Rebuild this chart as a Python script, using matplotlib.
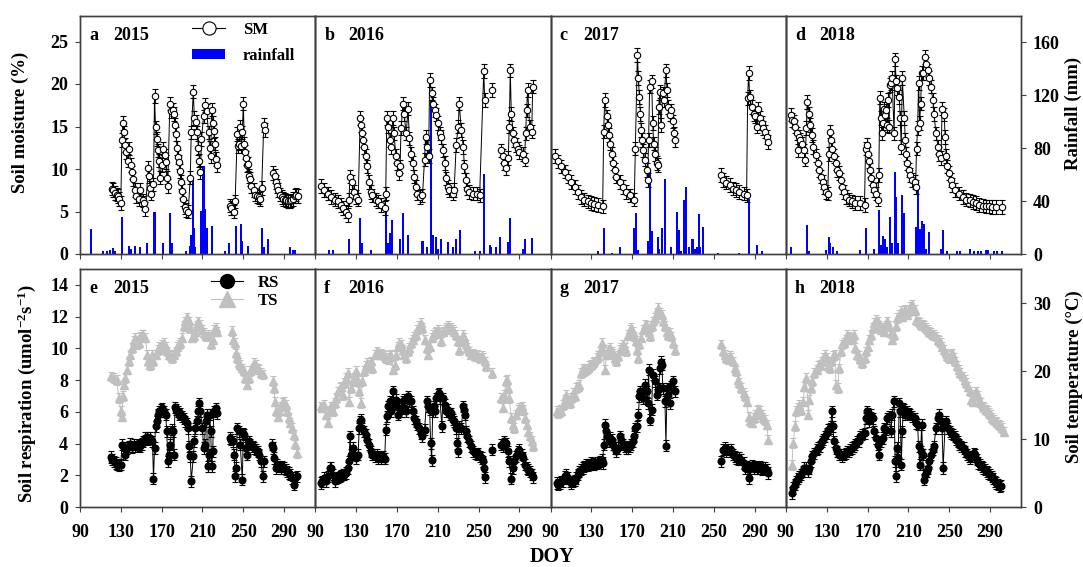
import numpy as np
import matplotlib
matplotlib.use('Agg')
import matplotlib.pyplot as plt
from matplotlib.lines import Line2D
from matplotlib.patches import Patch

plt.rcParams['font.family'] = 'Liberation Serif'
plt.rcParams['font.weight'] = 'bold'
plt.rcParams['mathtext.fontset'] = 'custom'
plt.rcParams['mathtext.rm'] = 'Liberation Serif:bold'
plt.rcParams['mathtext.default'] = 'rm'

years = [2015, 2016, 2017, 2018]
top_tags = ['a', 'b', 'c', 'd']
bottom_tags = ['e', 'f', 'g', 'h']
doy_ticks = [90, 130, 170, 210, 250, 290]

# ---- soil moisture (%) ----
doy_sm_2015 = [121,122,124,126,127,128,130,131,132,133,134,135,137,138,140,141,142,144,145,148,149,152,153,154,
               157,158,159,160,162,163,164,165,166,167,168,170,171,173,174,175,176,178,179,181,182,183,184,185,186,
               187,188,189,190,191,193,194,196,198,199,201,202,204,205,206,207,208,209,211,212,214,216,217,218,219,
               220,221,222,223,224,237,238,241,242,244,245,246,247,248,249,250,251,252,253,254,255,256,257,258,260,
               261,263,265,266,268,270,271,279,281,282,283,284,286,288,289,291,292,294,296,297,299,301,302,304]
sm_2015 = [7.7,7.5,7.2,7.0,6.8,6.5,6.0,13.4,15.4,14.3,12.8,12.0,11.0,12.4,10.5,9.6,8.8,7.5,6.8,6.5,7.5,6.3,6.0,5.3,
           10.1,9.2,7.8,7.1,8.2,18.6,14.9,13.5,12.2,11.0,9.0,10.5,12.4,11.6,10.8,9.0,8.0,17.7,16.8,17.0,16.5,15.2,
           14.1,12.5,11.4,10.8,9.8,8.5,7.4,6.5,5.5,5.2,5.0,9.0,14.3,19.1,16.0,15.5,14.3,12.5,11.0,9.6,13.5,16.2,
           17.5,16.8,14.3,12.5,11.5,17.0,15.4,14.5,13.0,11.2,10.5,5.7,5.4,5.0,6.2,14.1,12.7,13.0,15.0,12.7,14.3,
           17.7,13.0,12.0,11.3,10.5,10.6,9.2,8.8,8.0,7.5,7.0,6.8,6.7,6.5,7.8,15.2,14.6,9.5,9.2,8.5,8.0,7.5,7.0,
           6.7,6.5,6.4,6.3,6.2,6.2,6.3,6.5,6.8,7.0,6.8]

doy_sm_2016 = [96,99,102,105,109,112,115,117,120,122,123,124,126,128,130,132,134,135,136,137,138,140,141,143,145,
               146,149,151,154,158,159,160,161,163,164,166,167,169,170,172,173,174,176,177,179,181,182,184,186,187,
               189,190,193,195,197,198,199,201,202,204,205,207,208,210,212,213,215,217,218,220,221,225,226,228,230,
               231,233,235,236,238,239,241,244,248,251,255,256,263,272,274,275,277,279,280,281,282,284,285,287,289,
               290,293,295,296,297,298,300,302,303]
sm_2016 = [8.0,7.5,7.1,6.7,6.4,6.2,5.8,5.4,5.0,4.6,6.4,9.1,8.5,7.3,6.7,6.4,16.0,15.2,14.2,13.4,12.6,11.5,10.3,8.5,
           7.3,6.9,6.4,6.2,5.8,5.4,7.1,16.0,15.0,13.4,12.6,16.0,14.2,11.5,10.7,9.5,10.3,14.8,17.7,16.5,14.2,17.1,
           13.6,11.8,10.7,9.1,7.9,7.1,6.7,6.9,11.1,13.8,12.6,11.5,20.5,18.9,17.7,16.9,16.4,15.4,14.2,13.8,12.2,
           10.7,8.9,7.9,7.5,7.1,7.5,12.8,15.0,17.7,14.6,12.6,10.3,8.7,7.7,7.3,7.1,7.1,6.9,21.5,18.1,19.3,12.2,
           11.5,10.7,10.1,11.3,15.0,21.6,16.5,14.2,13.4,12.8,12.4,12.0,11.8,11.1,14.2,16.9,19.3,15.0,14.4,19.7]

doy_sm_2017 = [94,97,100,104,107,110,114,117,120,123,127,130,133,136,141,142,143,145,146,147,148,150,151,153,154,
               158,161,164,168,172,173,175,176,177,178,179,180,181,182,184,185,186,187,189,190,191,192,194,195,196,
               197,198,200,201,203,204,205,207,208,210,211,212,257,259,262,266,269,272,275,279,282,283,284,285,287,
               289,290,292,293,295,297,298,300,302,303]
sm_2017 = [11.5,10.9,10.3,9.7,9.1,8.5,7.9,7.3,6.7,6.4,6.2,6.0,5.9,5.8,5.6,14.4,18.1,16.2,15.2,14.0,13.0,11.8,10.7,
           9.9,9.1,8.5,7.9,7.3,6.9,6.4,12.4,23.4,20.7,18.5,16.5,14.6,13.4,12.2,11.1,9.9,8.7,13.4,19.7,20.3,15.4,
           13.0,11.8,10.7,10.5,17.3,19.1,15.2,18.9,18.1,21.6,19.3,17.3,16.4,16.9,15.6,14.2,13.4,9.3,8.7,8.4,8.1,
           7.7,7.5,7.3,7.1,6.9,18.3,21.3,18.5,17.3,16.5,16.2,15.0,17.1,16.0,15.4,14.8,14.4,13.8,13.2]

doy_sm_2018 = [95,96,98,99,101,102,103,104,106,108,109,110,111,113,114,116,117,119,121,122,124,126,127,129,131,
               132,133,134,135,137,139,140,142,144,145,147,149,152,155,158,163,167,168,169,170,171,172,173,175,176,
               178,180,181,182,183,184,185,186,187,188,189,190,191,192,193,194,196,197,198,199,201,202,203,204,206,
               207,208,209,211,212,214,216,217,218,219,220,221,222,223,224,226,227,229,230,232,234,235,237,239,240,
               242,243,245,246,247,248,250,252,253,256,260,263,266,270,273,276,279,283,286,289,292,296,302]
sm_2018 = [16.4,15.8,15.6,15.0,14.2,12.2,13.8,13.4,13.0,12.2,11.1,14.8,17.9,16.5,15.2,14.0,12.6,11.6,10.7,9.9,9.1,
           8.5,7.9,7.3,7.1,11.8,14.4,13.4,12.4,11.5,10.7,9.9,9.5,8.7,7.9,7.3,6.7,6.4,6.2,6.0,6.0,5.8,12.4,12.8,
           11.8,10.9,9.9,8.9,8.1,7.5,7.1,6.4,9.3,18.4,16.0,14.2,15.4,17.1,16.4,16.9,15.2,18.1,15.0,19.9,20.1,
           20.7,14.2,22.9,20.3,19.5,18.5,16.0,12.6,20.7,16.0,13.4,11.8,10.7,9.9,9.3,8.7,8.5,7.9,12.4,14.8,20.1,
           15.4,17.7,21.3,21.3,23.2,22.4,21.6,20.7,19.7,18.1,16.5,14.2,12.6,11.8,11.3,17.1,16.4,13.8,11.5,10.3,
           9.5,8.7,8.1,7.5,7.1,6.7,6.4,6.3,6.1,6.0,5.8,5.7,5.6,5.6,5.5,5.5,5.5]

# ---- daily rainfall (mm) ----
doy_rain_2015 = [101,113,116,119,122,124,131,138,140,144,149,156,163,171,178,180,194,198,199,201,202,203,209,211,
                 212,214,219,232,236,243,248,249,255,268,270,274,296,299,301]
rain_2015 = [18.6,2,2,3,4.3,2.5,28,6,4,6,5,8.6,31.7,8,30.7,8,2,6,14,56,20,5,32.7,66.5,33.8,20,21,2,8,21.4,22.7,
             10,6,20,5,11,5,3,3]
doy_rain_2016 = [103,107,123,134,136,145,159,161,163,165,173,176,181,195,199,203,205,208,210,213,220,225,228,232,
                 246,251,255,261,262,267,271,279,281,293,295,302]
rain_2016 = [3,3,11,27,8,3,33,8,16,26,11,31,14,10,5,116,14,13,4,11,9,5,11,18,2.5,2,60.5,7,5,5,12.6,9,27,4,11,12]
doy_rain_2017 = [136,142,150,158,172,174,176,185,187,189,195,196,199,202,208,214,216,218,221,223,226,229,231,233,
                 235,236,239,254,275,284,292,297]
rain_2017 = [2,19.4,1,5,19.4,30.7,3,10,63.5,17.6,13,4,20,57,5.5,31.5,18,2.5,40.8,50.9,5.5,11,4,5.5,30,5.5,20.6,
             1,1,41.5,7,2]
doy_rain_2018 = [95,111,113,129,132,133,136,140,163,168,176,181,183,185,187,189,192,194,197,198,200,204,206,217,
                 219,221,223,225,227,230,242,244,248,258,261,270,274,278,281,286,288,294,297,302]
rain_2018 = [5,22,2.5,3,12.6,8,5.5,2,3,20,3.5,33,7,13.6,11,5.5,27.7,8,61.7,43,8,45,30.7,20.6,55.4,18.6,25.2,22.7,
             4,16.4,3.5,18,2,2.5,2,4,2,2,2.5,3,3,2,2,2]

# ---- soil respiration ----
doy_rs_2015 = [120,121,123,125,126,128,130,131,133,134,136,138,139,141,143,144,146,148,149,151,152,154,156,157,159,
               161,162,163,164,165,166,167,169,170,172,174,175,176,177,178,180,181,182,183,184,186,187,188,190,192,
               193,195,196,197,198,199,201,202,203,205,206,207,208,210,211,212,213,214,215,216,217,218,219,220,221,
               223,224,237,238,240,241,242,243,244,246,247,249,250,251,253,254,256,257,259,260,262,264,265,267,269,
               270,278,279,280,282,283,285,287,288,290,292,293,295,296,298,300,301,303]
rs_2015 = [3.15,2.98,2.88,2.77,2.67,2.62,2.67,3.93,3.72,3.3,3.72,3.82,3.97,3.76,3.93,3.82,3.93,3.88,3.82,3.97,4.14,
           4.35,4.39,4.24,4.35,4.14,1.78,3.72,5.08,5.39,5.81,6.02,6.13,6.23,6.02,5.81,4.76,2.88,3.3,3.93,4.87,4.76,
           3.3,6.28,6.13,6.02,5.81,5.92,5.71,5.6,5.39,5.29,4.97,3.82,3.19,1.62,3.19,4.14,4.97,5.39,6.02,6.55,6.02,
           4.97,3.72,3.93,5.39,5.81,2.56,3.3,5.81,4.76,2.56,3.5,6.02,6.23,5.92,4.35,4.24,4.14,3.3,1.93,2.46,4.97,
           4.76,3.93,1.72,4.66,4.55,3.72,3.3,4.14,3.93,3.82,3.72,3.61,3.5,3.3,2.88,1.93,2.88,3.93,3.72,3.09,2.46,
           2.67,2.56,2.46,2.56,2.46,2.35,2.25,2.14,2.04,1.83,1.41,1.83,1.93]

doy_rs_2016 = [96,97,99,100,102,104,105,107,109,110,112,114,115,117,118,120,122,123,124,125,127,128,130,132,133,
               134,135,136,138,140,141,143,145,146,148,150,151,153,154,156,158,159,160,161,163,164,166,168,169,171,
               172,174,176,177,179,181,182,184,186,187,189,190,192,194,195,197,199,200,202,203,204,205,206,207,208,
               210,211,212,214,215,217,218,220,222,223,225,226,228,229,230,231,233,235,236,237,238,239,241,243,244,
               246,248,249,251,253,254,255,256,263,272,274,275,277,279,280,282,284,285,287,289,290,292,293,295,297,
               298,300,302,303]
rs_2016 = [1.51,1.62,1.83,1.62,1.93,2.46,2.46,2.04,1.62,1.78,1.87,1.93,1.99,2.04,2.04,2.14,2.46,2.88,4.45,3.3,3.72,
           3.3,3.09,3.3,4.97,5.39,5.5,4.97,4.76,4.55,4.24,3.93,3.5,3.3,3.19,3.3,3.09,3.19,3.09,3.19,3.04,4.87,5.71,
           6.34,6.65,6.02,7.28,6.44,6.76,5.81,6.23,6.02,6.65,6.76,6.02,6.97,6.65,6.65,6.02,5.6,5.39,5.18,4.97,4.66,
           4.45,4.87,6.65,6.34,6.13,4.03,2.94,6.02,6.34,6.02,6.86,7.07,7.18,6.86,5.08,6.86,6.44,6.02,6.13,5.81,
           5.92,5.5,5.39,4.97,4.03,3.5,5.08,4.97,6.34,6.13,5.81,4.76,4.45,4.14,3.82,3.5,3.4,3.3,3.4,3.19,3.09,2.88,
           2.46,1.87,3.61,3.93,3.82,4.14,4.03,3.5,2.88,1.78,2.46,2.88,3.19,3.5,3.61,3.3,3.09,2.67,2.46,2.35,2.25,
           2.04,1.87]

doy_rs_2017 = [96,97,99,100,102,104,105,107,109,110,112,114,115,117,118,120,122,123,125,127,128,130,132,133,135,
               136,138,140,141,142,143,144,145,147,148,150,151,153,154,156,158,159,161,163,164,166,168,169,171,172,
               173,175,176,177,178,179,181,182,184,185,186,187,189,190,192,194,195,196,197,198,199,200,202,203,204,
               205,207,208,210,212,257,259,261,262,264,266,267,269,271,272,274,275,277,279,280,282,284,285,287,289,
               290,292,293,295,297,298,300,302,303]
rs_2017 = [1.51,1.41,1.51,1.62,1.62,1.93,2.04,1.83,1.62,1.51,1.62,1.66,1.83,2.04,2.25,2.35,2.46,2.56,2.67,2.62,2.67,
           2.77,2.71,2.67,2.77,2.83,2.88,2.98,2.77,3.93,5.18,4.76,4.45,4.14,4.35,4.24,3.93,3.72,3.5,3.72,4.45,4.24,
           3.93,3.82,3.72,3.72,3.82,3.93,4.14,4.45,4.97,5.08,5.81,6.97,7.28,7.07,6.86,7.7,7.28,6.55,8.65,5.5,6.13,
           8.33,7.91,7.07,7.39,7.49,8.75,9.17,8.96,7.49,6.65,3.86,7.49,7.07,6.55,7.6,7.91,7.28,2.88,3.61,3.72,3.5,
           3.61,3.5,3.61,3.3,3.19,3.09,2.98,3.09,2.98,2.77,2.46,2.56,1.83,2.46,2.62,2.46,2.56,2.46,2.46,2.56,2.35,
           2.46,2.46,2.35,2.14]

doy_rs_2018 = [96,97,99,100,102,103,105,107,108,110,112,113,115,116,118,120,121,123,125,126,128,130,131,133,134,
               135,136,137,139,140,142,144,145,147,149,150,152,153,155,157,158,160,162,163,165,167,168,169,170,171,
               173,175,176,178,180,181,183,185,186,188,189,191,193,194,196,197,198,199,200,201,202,203,204,205,206,
               207,209,211,212,214,216,217,219,220,221,222,223,224,225,226,228,229,230,232,234,235,237,239,240,242,
               243,244,246,247,249,251,252,254,256,257,259,260,262,264,265,267,269,270,272,274,275,277,278,280,282,
               283,285,287,288,290,292,293,295,296,298,300,301]
rs_2018 = [0.88,1.2,1.41,1.62,1.78,1.93,2.04,2.25,2.46,2.46,2.25,2.46,2.88,3.19,3.4,3.61,3.72,3.82,4.14,4.24,4.45,
           4.66,4.87,4.97,5.08,6.02,5.08,4.14,3.72,3.5,3.3,3.3,3.19,3.3,3.4,3.5,3.5,3.61,3.72,3.82,3.93,4.14,4.14,
           4.45,4.55,4.66,5.6,6.02,5.92,5.39,5.81,5.6,4.76,4.35,3.93,3.3,4.14,4.35,4.97,4.87,5.6,5.71,4.76,5.81,
           6.65,2.88,1.93,3.72,3.09,6.55,6.02,2.67,4.76,6.23,6.13,5.81,6.02,5.92,5.81,5.71,5.6,5.29,5.18,3.82,2.67,
           3.5,5.18,3.3,1.72,2.04,2.25,2.46,2.88,3.3,3.61,3.82,4.97,5.6,5.81,5.39,4.97,2.46,5.18,5.39,4.97,4.76,
           4.66,4.55,4.45,4.24,4.14,3.93,3.82,3.72,3.5,3.3,3.19,3.09,3.19,3.4,3.3,2.98,2.77,2.67,2.56,2.46,2.35,
           2.25,2.14,2.04,1.93,1.78,1.62,1.51,1.41,1.3,1.34]

# ---- soil temperature (degC) ----
doy_ts_2015 = [120,123,126,128,130,131,132,133,134,136,138,139,141,143,144,146,148,149,151,152,154,156,157,159,161,
               162,164,166,167,169,170,172,174,175,177,179,180,182,184,185,187,188,190,192,193,195,197,198,200,202,
               203,205,206,208,210,211,213,215,216,218,220,221,223,224,239,240,242,243,244,246,247,249,251,252,254,
               256,257,259,260,262,264,265,267,269,279,280,281,282,284,285,287,288,290,292,293,295,296,298,300,301,
               303]
ts_2015 = [19.2,19.0,18.7,16.0,14.1,13.3,16.3,18.0,19.0,20.2,21.4,22.4,23.4,24.4,24.9,23.9,24.1,25.1,25.3,25.3,24.9,
           22.4,21.4,20.9,22.4,21.4,22.4,23.1,23.6,23.4,23.9,24.1,23.6,22.9,22.4,22.2,21.9,22.4,22.9,23.6,23.9,24.1,
           24.9,26.6,27.3,27.9,27.3,26.3,24.9,25.1,25.8,26.6,27.3,26.8,26.1,25.6,25.1,25.3,25.1,23.9,24.6,26.1,26.3,
           25.8,25.9,24.6,24.1,22.6,21.9,21.2,20.9,20.4,20.0,19.0,18.0,19.0,20.0,20.4,21.2,20.9,20.4,20.2,19.7,19.5,
           18.5,17.5,15.5,14.1,13.3,14.1,14.8,15.3,15.5,15.0,14.1,13.1,12.4,11.6,10.6,9.2,7.9]

doy_ts_2016 = [96,97,99,100,102,104,105,107,109,110,112,114,115,117,118,120,122,123,125,127,128,130,132,133,135,
               136,138,140,141,143,145,146,148,150,151,153,154,156,158,159,161,163,164,166,168,169,171,172,174,176,
               177,179,181,182,184,186,187,189,190,192,194,195,197,199,200,202,204,205,207,208,210,212,213,215,217,
               218,220,222,223,225,226,228,230,231,233,235,236,238,239,241,243,244,246,248,249,251,253,254,256,257,
               263,272,274,275,277,278,279,280,282,284,285,287,289,290,292,293,295,297,298,300,302,303]
ts_2016 = [14.8,14.6,15.0,13.6,12.4,14.1,14.8,14.1,15.3,16.0,17.0,17.5,17.7,16.5,18.2,19.0,19.7,15.5,17.5,18.5,19.0,
           20.0,18.5,17.0,15.3,18.5,20.0,20.7,21.2,20.9,21.4,20.4,22.4,22.9,22.6,22.4,22.6,22.4,22.2,21.9,21.7,22.4,
           22.2,20.2,20.9,22.4,23.6,24.1,23.9,23.1,22.4,21.9,22.9,23.4,24.1,24.6,25.1,25.3,26.1,26.6,27.1,26.3,24.6,
           23.4,22.4,23.6,24.9,25.3,25.6,25.8,26.1,25.6,24.4,25.8,26.1,26.3,26.6,26.4,26.3,26.1,25.8,25.3,24.4,23.1,
           24.4,25.3,24.9,23.9,23.4,22.9,22.4,22.6,22.2,22.4,22.2,21.9,22.2,21.9,21.4,20.7,19.7,16.0,14.6,16.5,18.5,
           18.7,17.5,16.0,13.1,12.1,11.6,13.6,14.3,14.6,14.8,14.3,13.1,12.1,11.1,10.4,9.7,8.9]

doy_ts_2017 = [96,97,99,100,102,104,105,107,109,110,112,114,115,117,118,120,122,123,125,127,128,130,132,133,135,
               136,138,140,141,143,145,146,148,150,151,153,154,156,158,159,161,163,164,166,168,169,171,172,174,175,
               176,177,179,181,182,184,186,187,189,190,192,194,195,197,199,200,202,204,205,207,208,210,212,257,259,
               261,262,264,266,267,269,271,272,274,275,277,279,280,282,284,285,287,289,290,292,293,295,297,298,300,
               302,303]
ts_2017 = [14.1,13.8,14.3,14.1,15.0,15.8,16.5,15.5,15.3,16.0,16.8,16.3,17.5,17.7,18.0,19.7,20.4,20.0,20.2,20.4,20.7,
           20.9,21.2,21.4,21.9,22.2,22.9,24.1,22.9,20.2,22.4,23.1,23.4,22.9,22.6,21.9,21.4,22.2,23.1,23.4,23.9,23.4,
           22.9,25.3,26.1,26.3,25.8,25.1,24.4,23.1,21.9,23.9,24.9,26.1,26.8,26.6,25.8,25.1,26.6,27.3,27.8,28.5,29.3,
           28.5,28.3,27.3,26.6,25.8,25.3,25.6,25.1,24.1,23.1,23.9,22.9,22.4,21.9,21.7,22.2,21.9,21.4,20.4,20.0,18.7,
           18.2,17.5,16.8,16.3,15.5,13.3,12.6,12.4,13.1,13.6,14.1,14.3,14.1,13.6,13.1,12.8,12.1,9.9]

doy_ts_2018 = [96,97,99,100,102,103,105,107,108,110,112,113,115,116,118,120,121,123,125,126,128,130,131,133,134,
               136,138,139,141,142,144,145,147,149,150,152,153,155,157,158,160,162,163,165,167,168,170,171,173,175,
               176,178,180,181,183,185,186,188,189,191,193,194,196,198,199,201,203,204,206,207,209,211,212,214,216,
               217,219,221,222,224,225,227,229,230,232,234,235,237,239,240,242,243,245,247,248,250,252,253,255,256,
               258,260,261,263,265,266,268,270,271,273,274,276,278,279,281,283,284,286,288,289,291,292,294,296,297,
               299,301,302,304]
ts_2018 = [6.2,9.4,11.9,14.1,14.6,15.0,14.3,15.5,17.7,19.0,13.6,15.8,17.5,18.5,19.7,20.2,20.7,20.9,21.4,21.9,22.4,
           21.9,20.7,20.4,21.4,22.2,22.4,18.0,17.5,20.4,22.9,23.9,24.1,24.6,25.3,25.1,24.6,24.9,25.3,23.4,22.4,22.2,
           21.7,21.2,21.9,22.9,23.6,24.6,25.3,26.3,27.1,27.5,27.3,26.6,26.1,26.3,25.8,26.6,27.3,26.6,25.6,24.6,25.3,
           26.6,27.8,28.3,28.8,28.0,28.8,29.0,28.3,28.8,29.4,29.8,29.0,27.5,27.3,27.1,26.8,26.8,26.6,26.3,26.1,25.8,
           25.6,25.3,25.3,25.1,24.6,24.4,24.1,23.6,23.1,22.6,22.2,21.9,22.4,22.6,21.9,21.4,20.7,20.2,19.7,19.2,18.7,
           18.2,17.7,17.0,15.8,15.5,16.5,17.0,16.3,15.5,15.3,14.8,14.6,14.3,14.1,13.8,13.6,13.1,12.8,12.6,12.4,12.1,
           11.9,11.6,11.1]

# typical standard errors drawn as error bars
sm_err = 0.8
rs_err = 0.35
ts_err = 0.7

sm_doys = [doy_sm_2015, doy_sm_2016, doy_sm_2017, doy_sm_2018]
sm_vals = [sm_2015, sm_2016, sm_2017, sm_2018]
rain_doys = [doy_rain_2015, doy_rain_2016, doy_rain_2017, doy_rain_2018]
rain_vals = [rain_2015, rain_2016, rain_2017, rain_2018]
rs_doys = [doy_rs_2015, doy_rs_2016, doy_rs_2017, doy_rs_2018]
rs_vals = [rs_2015, rs_2016, rs_2017, rs_2018]
ts_doys = [doy_ts_2015, doy_ts_2016, doy_ts_2017, doy_ts_2018]
ts_vals = [ts_2015, ts_2016, ts_2017, ts_2018]

GRAY = '#c0c0c0'
BLUE = '#0000ff'
FRAME = '#404040'
FW, FH = 1083, 567


def split_gaps(doy, val, max_gap=6):
    # break the line wherever measurements stop for more than a few days
    doy = np.asarray(doy, float)
    val = np.asarray(val, float)
    cut = np.where(np.diff(doy) > max_gap)[0] + 1
    return np.insert(doy, cut, np.nan), np.insert(val, cut, np.nan)


def style_frame(ax):
    for s in ax.spines.values():
        s.set_color(FRAME)
        s.set_linewidth(1.0)
    ax.tick_params(direction='out', length=3.5, width=0.8, color=FRAME, labelsize=13, pad=5)


def px(x, y):
    return x / FW, 1 - y / FH


fig = plt.figure(figsize=(10.83, 5.67), dpi=100)
L0 = 80 / FW
W = 235.3 / FW
H = 238 / FH
top_b = 1 - 254 / FH
bot_b = 1 - 507 / FH
leg_font = {'family': 'Liberation Serif', 'weight': 'bold', 'size': 12}

for i in range(4):
    # upper row: soil moisture + rainfall
    ax = fig.add_axes([L0 + i * W, top_b, W, H])
    axr = ax.twinx()
    axr.bar(rain_doys[i], rain_vals[i], width=2.0, color=BLUE, linewidth=0)
    ax.set_zorder(axr.get_zorder() + 1)
    ax.patch.set_visible(False)
    x, y = split_gaps(sm_doys[i], sm_vals[i])
    ax.errorbar(x, y, yerr=sm_err, fmt='-o', color='black', lw=0.7, ms=4.6, mfc='white', mec='black',
                mew=0.8, ecolor='black', elinewidth=0.8, capsize=2.2, capthick=0.8)
    ax.set_xlim(90, 320.5)
    ax.set_ylim(0, 28)
    axr.set_ylim(0, 180)
    ax.set_xticks(doy_ticks)
    style_frame(ax)
    style_frame(axr)
    ax.tick_params(labelbottom=False)
    if i == 0:
        ax.set_yticks([0, 5, 10, 15, 20, 25])
    else:
        ax.tick_params(left=False, labelleft=False)
    if i == 3:
        axr.set_yticks([0, 40, 80, 120, 160])
    else:
        axr.tick_params(right=False, labelright=False)
    ax.text(0.038, 0.955, top_tags[i], transform=ax.transAxes, va='top', ha='left', fontsize=13,
            fontweight='bold')
    ax.text(0.14, 0.955, str(years[i]), transform=ax.transAxes, va='top', ha='left', fontsize=13,
            fontweight='bold')
    if i == 0:
        handles = [Line2D([], [], color='black', lw=0.8, marker='o', ms=9.5, mfc='white', mec='black', mew=0.8),
                   Patch(facecolor=BLUE, edgecolor='none')]
        ax.legend(handles, ['SM', 'rainfall'], loc='upper left', bbox_to_anchor=(0.476, 0.975), frameon=False,
                  borderaxespad=0, borderpad=0, handlelength=2.0, handleheight=0.55, handletextpad=1.05,
                  labelspacing=0.6, prop=leg_font)

    # lower row: soil respiration + soil temperature
    bx = fig.add_axes([L0 + i * W, bot_b, W, H])
    bxr = bx.twinx()
    x, y = split_gaps(ts_doys[i], ts_vals[i])
    bxr.errorbar(x, y, yerr=ts_err, fmt='-^', color=GRAY, lw=0.7, ms=5.2, mfc=GRAY, mec=GRAY,
                 ecolor=GRAY, elinewidth=0.8, capsize=2.2, capthick=0.8)
    bx.set_zorder(bxr.get_zorder() + 1)
    bx.patch.set_visible(False)
    x, y = split_gaps(rs_doys[i], rs_vals[i])
    bx.errorbar(x, y, yerr=rs_err, fmt='-o', color='black', lw=0.7, ms=4.8, mfc='black', mec='black',
                ecolor='black', elinewidth=0.8, capsize=2.2, capthick=0.8)
    bx.set_xlim(90, 320.5)
    bx.set_ylim(0, 15)
    bxr.set_ylim(0, 35)
    bx.set_xticks(doy_ticks)
    style_frame(bx)
    style_frame(bxr)
    bx.tick_params(axis='x', pad=9)
    if i == 0:
        bx.set_yticks([0, 2, 4, 6, 8, 10, 12, 14])
    else:
        bx.tick_params(left=False, labelleft=False)
    if i == 3:
        bxr.set_yticks([0, 10, 20, 30])
    else:
        bxr.tick_params(right=False, labelright=False)
    bx.text(0.038, 0.955, bottom_tags[i], transform=bx.transAxes, va='top', ha='left', fontsize=13,
            fontweight='bold')
    bx.text(0.14, 0.955, str(years[i]), transform=bx.transAxes, va='top', ha='left', fontsize=13,
            fontweight='bold')
    if i == 0:
        handles = [Line2D([], [], color='black', lw=0.8, marker='o', ms=10, mfc='black', mec='black'),
                   Line2D([], [], color=GRAY, lw=0.8, marker='^', ms=11, mfc=GRAY, mec=GRAY)]
        bx.legend(handles, ['RS', 'TS'], loc='upper left', bbox_to_anchor=(0.557, 0.975), frameon=False,
                  borderaxespad=0, borderpad=0, handlelength=1.9, handletextpad=0.9, labelspacing=0.1,
                  prop=leg_font)

# axis titles
fig.text(*px(20, 122), 'Soil moisture (%)', rotation=90, ha='center', va='center', fontsize=13.5,
         fontweight='bold')
fig.text(*px(27, 394), 'Soil respiration (umol$^{-2}$s$^{-1}$)', rotation=90, ha='center', va='center',
         fontsize=13.5, fontweight='bold')
fig.text(*px(1073, 113), 'Rainfall (mm)', rotation=90, ha='center', va='center', fontsize=13.5,
         fontweight='bold')
fig.text(*px(1074, 377), 'Soil temperature (\u00b0C)', rotation=90, ha='center', va='center', fontsize=13.5,
         fontweight='bold')
fig.text(*px(552, 557), 'DOY', ha='center', va='center', fontsize=14.5, fontweight='bold')

fig.savefig('out.png', dpi=100)
